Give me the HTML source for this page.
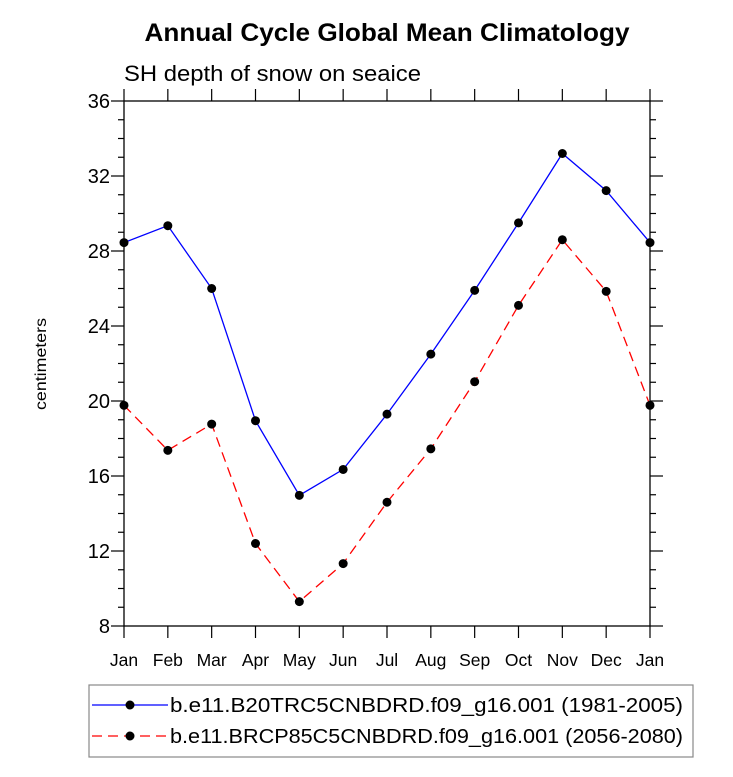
<!DOCTYPE html>
<html><head><meta charset="utf-8"><style>
body{margin:0;background:#fff;}
svg{display:block;font-family:"Liberation Sans",sans-serif;}
</style></head><body>
<svg width="733" height="777" viewBox="0 0 733 777" xmlns="http://www.w3.org/2000/svg">
<text x="387" y="41" text-anchor="middle" font-size="25" font-weight="bold" textLength="485" lengthAdjust="spacingAndGlyphs">Annual Cycle Global Mean Climatology</text>
<text x="124" y="81" font-size="22" textLength="297" lengthAdjust="spacingAndGlyphs">SH depth of snow on seaice</text>
<text transform="translate(46,364) rotate(-90)" text-anchor="middle" font-size="16" textLength="92" lengthAdjust="spacingAndGlyphs">centimeters</text>
<g id="axes"></g>
<g id="series"></g>
<rect x="124" y="101" width="526" height="525" fill="none" stroke="#000" stroke-width="1.3"/>
<g>
<rect x="89" y="685" width="604" height="72" fill="#fff" stroke="#888" stroke-width="1.2"/>
<g>
<line x1="92" y1="705" x2="168" y2="705" stroke="#0000ff" stroke-width="1.2"/>
<circle cx="130" cy="705" r="4.5" fill="#000"/>
<text x="170" y="712" font-size="20" textLength="513" lengthAdjust="spacingAndGlyphs">b.e11.B20TRC5CNBDRD.f09_g16.001 (1981-2005)</text>
</g>
<g>
<line x1="92" y1="736" x2="168" y2="736" stroke="#ff0000" stroke-width="1.2" stroke-dasharray="10,6"/>
<circle cx="130" cy="736" r="4.5" fill="#000"/>
<text x="170" y="743" font-size="20" textLength="513" lengthAdjust="spacingAndGlyphs">b.e11.BRCP85C5CNBDRD.f09_g16.001 (2056-2080)</text>
</g>
</g>
</svg>
<script>
const months=["Jan","Feb","Mar","Apr","May","Jun","Jul","Aug","Sep","Oct","Nov","Dec","Jan"];
const yTicks=[8,12,16,20,24,28,32,36];
const histValues=[28.45,29.35,26.0,18.95,14.97,16.35,19.3,22.5,25.9,29.5,33.2,31.22,28.45];
const rcpValues=[19.77,17.37,18.77,12.4,9.3,11.33,14.6,17.45,21.03,25.1,28.6,25.85,19.77];
const NS="http://www.w3.org/2000/svg";
const x0=124,x1=650,y0=626,y1=101,ymin=8,ymax=36;
const xs=i=>x0+i*(x1-x0)/(months.length-1);
const ys=v=>y0-(v-ymin)*(y0-y1)/(ymax-ymin);
function mk(tag,attrs,parent){const e=document.createElementNS(NS,tag);for(const k in attrs)e.setAttribute(k,attrs[k]);parent.appendChild(e);return e;}
const axes=document.getElementById('axes');
for(let v=ymin;v<=ymax;v++){
  const major=yTicks.includes(v);const L=major?13:6;const y=ys(v);
  mk('line',{x1:x0-L,y1:y,x2:x0,y2:y,stroke:'#000','stroke-width':1.2},axes);
  mk('line',{x1:x1,y1:y,x2:x1+L,y2:y,stroke:'#000','stroke-width':1.2},axes);
}
yTicks.forEach(v=>{
  const t=mk('text',{x:x0-14,y:ys(v)+7,'text-anchor':'end','font-size':20},axes);
  
  
  t.textContent=v;
});
months.forEach((m,i)=>{
  const x=xs(i);
  mk('line',{x1:x,y1:y0,x2:x,y2:y0+12,stroke:'#000','stroke-width':1.2},axes);
  mk('line',{x1:x,y1:y1,x2:x,y2:y1-12,stroke:'#000','stroke-width':1.2},axes);
  const t=mk('text',{x:x,y:y0+40,'text-anchor':'middle','font-size':17.5},axes);
  
  
  t.textContent=m;
});
const ser=document.getElementById('series');
function drawSeries(vals,color,dash,name){
  const g=mk('g',{},ser);
  
  
  const pts=vals.map((v,i)=>xs(i)+','+ys(v)).join(' ');
  const attrs={points:pts,fill:'none',stroke:color,'stroke-width':1.3};
  if(dash)attrs['stroke-dasharray']=dash;
  mk('polyline',attrs,g);
  vals.forEach((v,i)=>{
    const c=mk('circle',{cx:xs(i),cy:ys(v),r:4.5,fill:'#000'},g);
    
    
  });
}
drawSeries(histValues,'#0000ff',null,'series-historical');
drawSeries(rcpValues,'#ff0000','10,6','series-rcp85');
</script>
</body></html>
